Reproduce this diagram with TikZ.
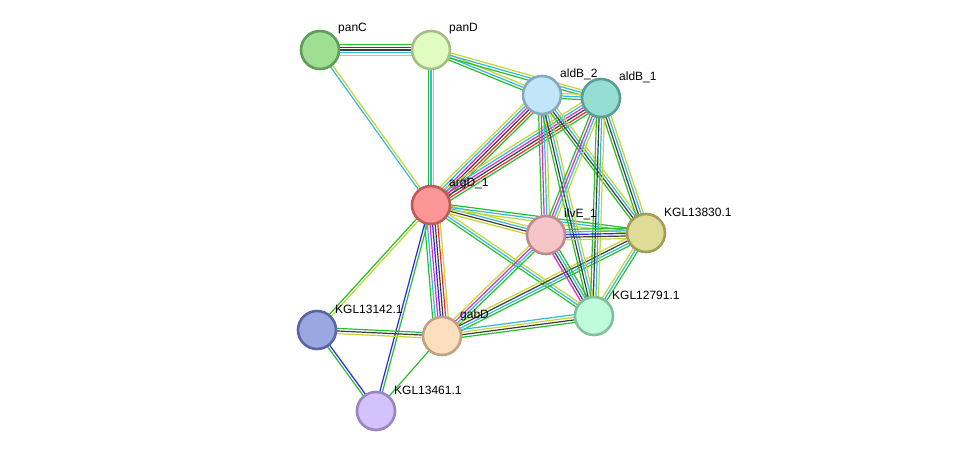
\documentclass[tikz,border=0pt]{standalone}
\usepackage{fontspec}
\setmainfont{Liberation Sans}
\usetikzlibrary{calc,backgrounds}
\definecolor{sg}{RGB}{40,190,40}
\definecolor{sc}{RGB}{50,185,220}
\definecolor{sy}{RGB}{196,214,50}
\definecolor{sk}{RGB}{60,60,60}
\definecolor{sb}{RGB}{40,40,240}
\definecolor{sm}{RGB}{220,40,220}
\definecolor{sr}{RGB}{240,40,40}
\definecolor{fpanC}{RGB}{159,223,148}\definecolor{bpanC}{RGB}{94,158,85}
\definecolor{fpanD}{RGB}{224,252,192}\definecolor{bpanD}{RGB}{163,191,134}
\definecolor{faldBb}{RGB}{193,230,250}\definecolor{baldBb}{RGB}{134,169,191}
\definecolor{faldBa}{RGB}{150,221,211}\definecolor{baldBa}{RGB}{90,158,149}
\definecolor{fargD}{RGB}{252,149,149}\definecolor{bargD}{RGB}{192,90,90}
\definecolor{filvE}{RGB}{246,197,197}\definecolor{bilvE}{RGB}{188,139,139}
\definecolor{fk830}{RGB}{222,220,150}\definecolor{bk830}{RGB}{160,159,90}
\definecolor{fk791}{RGB}{191,252,217}\definecolor{bk791}{RGB}{130,192,156}
\definecolor{fk142}{RGB}{155,167,224}\definecolor{bk142}{RGB}{90,102,160}
\definecolor{fgabD}{RGB}{253,222,190}\definecolor{bgabD}{RGB}{192,161,131}
\definecolor{fk461}{RGB}{212,194,252}\definecolor{bk461}{RGB}{151,134,192}
\newcommand\netedge[3]{%
  \def\nn{0}%
  \foreach \cc in {#3}{\xdef\nn{\the\numexpr\nn+1\relax}}%
  \foreach \cc [count=\ii] in {#3}{%
    \pgfmathsetmacro\oo{(\ii-(\nn+1)/2)*2.6}%
    \draw[\cc,line width=1.2pt] ($(#1.center)!\oo pt!90:(#2.center)$) -- ($(#2.center)!\oo pt!-90:(#1.center)$);%
  }}
\tikzset{
  prot/.style={circle,minimum size=38pt,inner sep=0pt,line width=2.6pt,fill=f#1,draw=b#1},
  lab/.style={anchor=west,font=\fontsize{12}{14}\selectfont,text=black,inner sep=0pt}
}
\newcommand\prot[4]{% name, x, y, label
  \node[prot=#1] (#1) at (#2,#3) {};
  \node[lab] (#1-l) at (#2+18,#3-21) {#4};}
\begin{document}
\begin{tikzpicture}[x=1pt,y=-1pt]
\useasboundingbox (0,0) rectangle (975,457);
\prot{panC}{320}{50}{panC}
\prot{panD}{431}{50}{panD}
\prot{aldBb}{542}{95}{aldB\_2}
\prot{aldBa}{601}{98}{aldB\_1}
\prot{argD}{431}{205}{argD\_1}
\prot{ilvE}{546}{235}{ilvE\_1}
\prot{k830}{646}{233}{KGL13830.1}
\prot{k791}{594}{316}{KGL12791.1}
\prot{k142}{317}{330}{KGL13142.1}
\prot{gabD}{442}{336}{gabD}
\prot{k461}{376}{411}{KGL13461.1}
\begin{scope}[on background layer]
\fill[white] (0,0) rectangle (975,457);
\netedge{panC}{panD}{sy,sc,sk,sb,sg}
\netedge{panC}{argD}{sc,sy}
\netedge{panD}{argD}{sg,sc,sy}
\netedge{panD}{aldBb}{sg,sc,sy}
\netedge{panD}{aldBa}{sg,sc,sy}
\netedge{aldBb}{aldBa}{sg,sc,sy}
\netedge{argD}{aldBb}{sg,sr,sk,sm,sc,sy}
\netedge{argD}{aldBa}{sg,sr,sk,sm,sc,sy}
\netedge{argD}{ilvE}{sy,sk,sc,sy}
\netedge{argD}{k830}{sy,sc,sg}
\netedge{argD}{k791}{sg,sc,sy}
\netedge{argD}{gabD}{sg,sc,sm,sb,sk,sr,sy}
\netedge{argD}{k142}{sg,sy}
\netedge{argD}{k461}{sb,sg}
\netedge{gabD}{k461}{sg}
\netedge{k142}{gabD}{sy,sk,sg}
\netedge{k142}{k461}{sg,sb}
\netedge{gabD}{ilvE}{sg,sc,sm,sy}
\netedge{gabD}{k830}{sg,sc,sk,sy}
\netedge{gabD}{k791}{sg,sk,sy,sc}
\netedge{aldBb}{ilvE}{sg,sm,sc,sy}
\netedge{aldBb}{k830}{sg,sk,sc,sy}
\netedge{aldBb}{k791}{sg,sk,sc,sy}
\netedge{aldBa}{ilvE}{sg,sm,sc,sy}
\netedge{aldBa}{k830}{sg,sk,sc,sy}
\netedge{aldBa}{k791}{sg,sk,sc,sy}
\netedge{ilvE}{k830}{sy,sk,sb,sc,sg}
\netedge{ilvE}{k791}{sm,sk,sc,sg}
\netedge{k830}{k791}{sy,sc,sg}
\end{scope}
\end{tikzpicture}
\end{document}
